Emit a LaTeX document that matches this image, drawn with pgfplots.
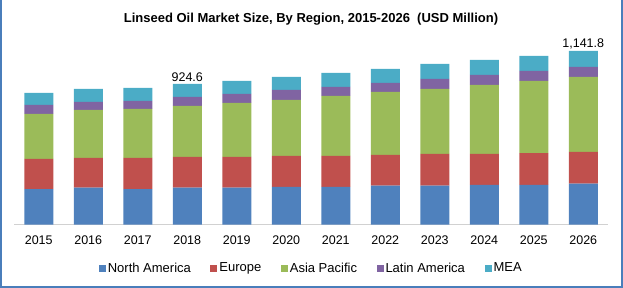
\documentclass[border=0pt]{standalone}
\usepackage{pgfplots}
\pgfplotsset{compat=1.18}
\usepackage{fontspec}
\setmainfont{Liberation Sans}
\definecolor{cNA}{HTML}{4F81BD}
\definecolor{cEU}{HTML}{C0504D}
\definecolor{cAP}{HTML}{9BBB59}
\definecolor{cLA}{HTML}{8064A2}
\definecolor{cME}{HTML}{4BACC6}
\definecolor{frame}{HTML}{4A7EBB}
\begin{document}
\begin{tikzpicture}[x=1pt,y=1pt]
\useasboundingbox (0,0) rectangle (623,288);
\draw[line width=2pt, color=frame] (1,288) -- (1,1) -- (622,1) -- (622,288);
\node[font=\fontsize{13}{15}\selectfont\bfseries] at (311,269) {Linseed Oil Market Size, By Region, 2015-2026\ \ (USD Million)};
\begin{axis}[
  at={(14pt,63.33pt)}, anchor=south west,
  scale only axis, width=594pt, height=197.8pt,
  ybar stacked, bar width=29pt,
  xmin=-0.5, xmax=11.5, ymin=0, ymax=1300,
  axis y line=none, axis x line*=bottom,
  x axis line style={draw=black!18, line width=1pt, -},
  xtick=data, major tick length=0pt,
  xticklabels={2015,2016,2017,2018,2019,2020,2021,2022,2023,2024,2025,2026},
  xticklabel style={font=\fontsize{12.5}{14}\selectfont, yshift=-8pt},
  /pgf/number format/assume math mode=true,
  clip=false,
  legend style={at={(0.5,-43.6pt)}, anchor=center, draw=none, fill=none,
    font=\fontsize{13}{15}\selectfont, column sep=0.5pt,
    nodes={inner sep=1.5pt},
    /tikz/every even column/.append style={column sep=18pt}},
  legend columns=5,
  legend image code/.code={\fill[#1] (0pt,-3.5pt) rectangle (7pt,3.5pt);},
  every axis plot/.append style={draw=none},
]
\addplot[fill=cNA] coordinates {(0,234.4) (1,243.2) (2,234.4) (3,243.2) (4,243.2) (5,247.6) (6,247.6) (7,256.3) (8,256.3) (9,260.7) (10,260.7) (11,269.5)};
\addplot[fill=cEU] coordinates {(0,197.2) (1,195.0) (2,203.8) (3,201.6) (4,201.6) (5,203.8) (6,203.8) (7,201.6) (8,208.2) (9,203.8) (10,210.3) (11,208.2)};
\addplot[fill=cAP] coordinates {(0,295.8) (1,315.5) (2,322.1) (3,335.2) (4,355.0) (5,368.1) (6,394.4) (7,414.1) (8,427.2) (9,453.5) (10,473.3) (11,493.0)};
\addplot[fill=cLA] coordinates {(0,59.2) (1,52.6) (2,52.6) (3,59.2) (4,59.2) (5,65.7) (6,59.2) (7,59.2) (8,65.7) (9,65.7) (10,65.7) (11,65.7)};
\addplot[fill=cME] coordinates {(0,78.9) (1,85.4) (2,85.4) (3,85.4) (4,85.4) (5,85.4) (6,92.0) (7,92.0) (8,98.6) (9,98.6) (10,98.6) (11,105.4)};
\legend{North America,Europe,Asia Pacific,Latin America,MEA}
\node[anchor=south, font=\fontsize{12.5}{14}\selectfont, inner sep=2pt] at (axis cs:3,924.6) {924.6};
\node[anchor=south, font=\fontsize{12.5}{14}\selectfont, inner sep=2pt] at (axis cs:11,1141.8) {1,141.8};
\end{axis}
\end{tikzpicture}
\end{document}
